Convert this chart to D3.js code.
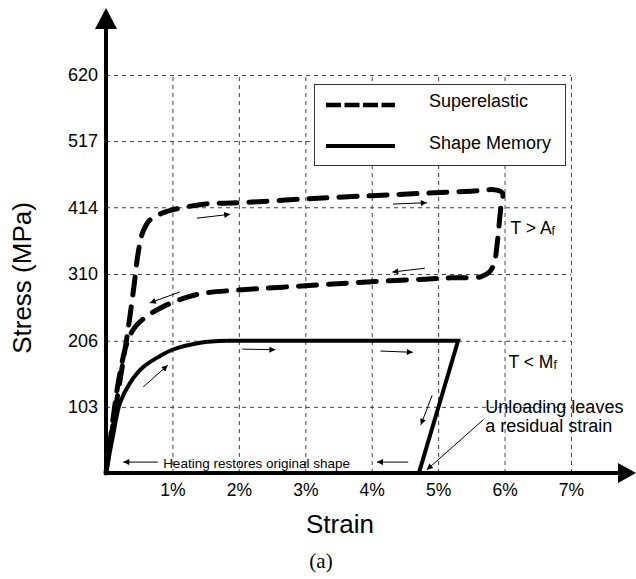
<!DOCTYPE html>
<html><head><meta charset="utf-8">
<script src="https://cdn.jsdelivr.net/npm/d3@7"></script>
<style>
body{margin:0;background:#fff;}
svg{display:block;font-family:"Liberation Sans",Arial,sans-serif;}
</style></head>
<body>
<svg id="chart" width="636" height="579"></svg>
<script>
// ---- data ----
const strainTicks = [1,2,3,4,5,6,7];
const strainTickLabels = ["1%","2%","3%","4%","5%","6%","7%"];
const stressTicks = [103,206,310,414,517,620];
const stressTickLabels = ["103","206","310","414","517","620"];

// Superelastic loop (strain %, stress MPa)
const superStrain = [0,0.1,0.22,0.32,0.42,0.48,0.55,0.66,0.85,1.0,1.5,2.0,3.0,4.0,4.83,5.5,5.86,5.97,5.95,5.93,5.89,5.85,5.78,5.65,5.2,4.8,4.0,3.2,2.0,1.46,1.11,0.8,0.6,0.45,0.33,0.2,0.1,0];
const superStress = [0,72,150,215,290,340,374,394,405,410,419,421,427,432,436,439,441,436,420,400,358,330,314,306,304,302,298,293,285,280,270,256,243,229,207,150,80,0];

// Shape memory: curved rise then linear plateau/unload/return
const smRiseStrain = [0,0.1,0.21,0.36,0.56,0.81,1.0,1.42,1.82];
const smRiseStress = [0,55,109,140,165,182,192,203,206];
const smLinStrain = [1.82,5.3,4.71,0];
const smLinStress = [206,206,0,0];

// Direction arrows [x1,y1,x2,y2] in (strain, stress)
const arrowsX1 = [1.37,4.32,4.80,1.11,0.56,2.05,4.13,4.91,0.78,4.55,5.68];
const arrowsY1 = [397,419,319,282,134,193,190,121,17,17,83];
const arrowsX2 = [1.87,4.83,4.31,0.66,0.93,2.55,4.62,4.74,0.26,4.08,4.83];
const arrowsY2 = [403,421,313,265,168,192,188,75,17,17,5];

const legendLabels = ["Superelastic","Shape Memory"];

// ---- drawing ----
const svg = d3.select("#chart");
const x = d3.scaleLinear().domain([0,7]).range([106,571]);
const y = d3.scaleLinear().domain([0,620]).range([473,75]);

const defs = svg.append("defs");
defs.append("marker").attr("id","ah").attr("viewBox","0 0 10 10")
  .attr("refX",10).attr("refY",5).attr("markerWidth",9).attr("markerHeight",6)
  .attr("markerUnits","userSpaceOnUse").attr("orient","auto")
  .append("path").attr("d","M0,0L10,5L0,10Z").attr("fill","#000");

// grid
const grid = svg.append("g").attr("stroke","#444").attr("stroke-width",1).attr("stroke-dasharray","4,4");
grid.selectAll("line.h").data(stressTicks).join("line").attr("class","h")
  .attr("x1",x(0)).attr("x2",x(7)).attr("y1",d=>y(d)+0.5).attr("y2",d=>y(d)+0.5);
grid.selectAll("line.v").data(strainTicks).join("line").attr("class","v")
  .attr("x1",d=>x(d)+0.5).attr("x2",d=>x(d)+0.5).attr("y1",y(0)).attr("y2",y(620));

// axes with D3 axis generators for labels
const xAxis = d3.axisBottom(x).tickValues(strainTicks).tickFormat((d,i)=>strainTickLabels[i]).tickSize(0).tickPadding(11);
const gx = svg.append("g").attr("transform",`translate(0,${y(0)})`).call(xAxis);
gx.select(".domain").remove();
gx.selectAll("text").attr("font-size",17.5).attr("fill","#000").attr("font-family","Liberation Sans, Arial, sans-serif");

const yAxis = d3.axisLeft(y).tickValues(stressTicks).tickFormat((d,i)=>stressTickLabels[i]).tickSize(0).tickPadding(8);
const gy = svg.append("g").attr("transform",`translate(${x(0)},0)`).call(yAxis);
gy.select(".domain").remove();
gy.selectAll("text").attr("font-size",18).attr("fill","#000").attr("font-family","Liberation Sans, Arial, sans-serif");

// axis lines with arrowheads
svg.append("line").attr("x1",x(0)-1).attr("x2",620).attr("y1",y(0)).attr("y2",y(0)).attr("stroke","#000").attr("stroke-width",4);
svg.append("path").attr("d",`M618,${y(0)-10}L636,${y(0)}L618,${y(0)+10}Z`).attr("fill","#000");
svg.append("line").attr("x1",x(0)).attr("x2",x(0)).attr("y1",y(0)+2).attr("y2",26).attr("stroke","#000").attr("stroke-width",4);
svg.append("path").attr("d",`M${x(0)-11},29L${x(0)},8L${x(0)+11},29Z`).attr("fill","#000");

// curves
const lineCurve = d3.line().x(d=>x(d[0])).y(d=>y(d[1])).curve(d3.curveCatmullRom.alpha(0.5));
const lineLin = d3.line().x(d=>x(d[0])).y(d=>y(d[1]));

svg.append("path").datum(superStrain.map((s,i)=>[s,superStress[i]]))
  .attr("d",lineCurve).attr("fill","none").attr("stroke","#000").attr("stroke-width",5)
  .attr("stroke-linecap","round").attr("stroke-linejoin","round").attr("stroke-dasharray","18,12");

svg.append("path").datum(smRiseStrain.map((s,i)=>[s,smRiseStress[i]]))
  .attr("d",lineCurve).attr("fill","none").attr("stroke","#000").attr("stroke-width",4);
svg.append("path").datum(smLinStrain.map((s,i)=>[s,smLinStress[i]]))
  .attr("d",lineLin).attr("fill","none").attr("stroke","#000").attr("stroke-width",4).attr("stroke-linejoin","miter");

// arrows
svg.append("g").selectAll("line").data(arrowsX1.map((v,i)=>i)).join("line")
  .attr("x1",i=>x(arrowsX1[i])).attr("y1",i=>y(arrowsY1[i]))
  .attr("x2",i=>x(arrowsX2[i])).attr("y2",i=>y(arrowsY2[i]))
  .attr("stroke","#000").attr("stroke-width",1).attr("marker-end","url(#ah)");

// annotations
const ann = svg.append("g").attr("fill","#000");
const t1 = ann.append("text").attr("x",x(6.09)).attr("y",y(372)).attr("font-size",17.5).text("T > A");
t1.append("tspan").attr("font-size",12).attr("dy",1).text("f");
const t2 = ann.append("text").attr("x",x(6.06)).attr("y",y(164)).attr("font-size",17.5).text("T < M");
t2.append("tspan").attr("font-size",12).attr("dy",1).text("f");
ann.append("text").attr("x",x(5.71)).attr("y",y(94)).attr("font-size",18).text("Unloading leaves");
ann.append("text").attr("x",x(5.71)).attr("y",y(64)).attr("font-size",18).text("a residual strain");
ann.append("text").attr("x",x(0.86)).attr("y",y(8)).attr("font-size",13.5).text("Heating restores original shape");

// legend
const lg = svg.append("g");
lg.append("rect").attr("x",314.5).attr("y",84.5).attr("width",251).attr("height",81)
  .attr("fill","#fff").attr("stroke","#333").attr("stroke-width",1);
lg.append("line").attr("x1",326).attr("x2",395).attr("y1",105).attr("y2",105)
  .attr("stroke","#000").attr("stroke-width",4.5).attr("stroke-dasharray","15,3.5");
lg.append("line").attr("x1",326).attr("x2",395).attr("y1",146).attr("y2",146)
  .attr("stroke","#000").attr("stroke-width",4);
lg.selectAll("text").data(legendLabels).join("text")
  .attr("x",429).attr("y",(d,i)=>107+i*42).attr("font-size",18).text(d=>d);

// axis titles
svg.append("text").attr("x",340).attr("y",533).attr("text-anchor","middle").attr("font-size",26).text("Strain");
svg.append("text").attr("transform","translate(31,278) rotate(-90)").attr("text-anchor","middle").attr("font-size",26).text("Stress (MPa)");
svg.append("text").attr("x",321).attr("y",568).attr("text-anchor","middle").attr("font-size",21)
  .attr("font-family","Liberation Serif, Times New Roman, serif").text("(a)");
</script>
</body></html>
